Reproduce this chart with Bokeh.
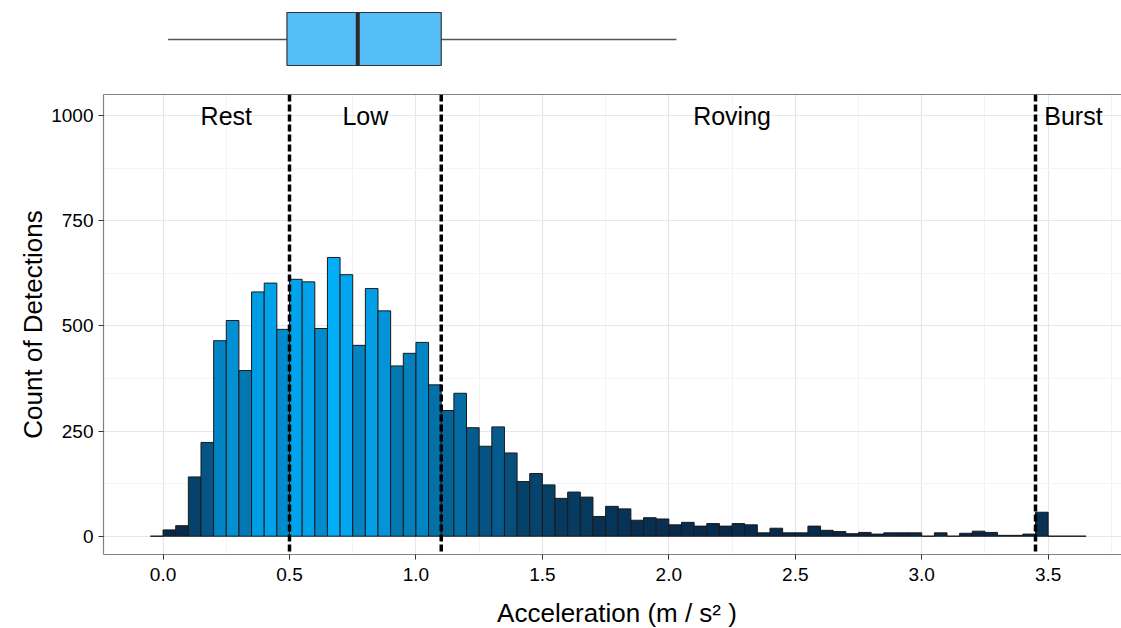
from bokeh.plotting import figure
from bokeh.layouts import column
from bokeh.models import (Range1d, Span, FixedTicker, ColumnDataSource,
                          LinearColorMapper, LinearAxis)
from bokeh.core.properties import value
from bokeh.embed import file_html
from bokeh.resources import INLINE

# ---------------- data ----------------
bin_width = 0.05
bin_start = -0.05
counts = [0, 15, 25, 141, 223, 465, 513, 394, 581, 602, 492,
          611, 605, 494, 663, 622, 454, 589, 536, 405, 435,
          461, 360, 299, 340, 258, 214, 260, 198, 130, 149,
          122, 90, 105, 93, 47, 71, 65, 38, 44, 41,
          27, 33, 24, 30, 24, 30, 27, 8, 19, 8,
          8, 24, 14, 11, 6, 9, 5, 8, 8, 8,
          0, 8, 0, 7, 12, 9, 2, 2, 5, 57,
          0, 0, 0]

thresholds = [0.5, 1.1, 3.45]
zone_names = ["Rest", "Low", "Roving", "Burst"]
zone_x = [0.25, 0.80, 2.25, 3.60]
zone_y = [1000, 1000, 1000, 1000]

box_q1, box_median, box_q3 = 0.49, 0.77, 1.10
whisker_lo, whisker_hi = 0.02, 2.03

x_ticks = [0.0, 0.5, 1.0, 1.5, 2.0, 2.5, 3.0, 3.5]
x_tick_labels = ["0.0", "0.5", "1.0", "1.5", "2.0", "2.5", "3.0", "3.5"]
x_minor = [0.25, 0.75, 1.25, 1.75, 2.25, 2.75, 3.25, 3.75]
y_ticks = [0, 250, 500, 750, 1000]
y_tick_labels = ["0", "250", "500", "750", "1000"]
y_minor = [125, 375, 625, 875]

x_title = "Acceleration (m / s² )"
y_title = "Count of Detections"

FONT = "Liberation Sans"

left_edges = [bin_start + i * bin_width for i in range(len(counts))]
right_edges = [e + bin_width for e in left_edges]

# palette (low -> high)
def lerp_hex(c1, c2, n):
    a = [int(c1[i:i + 2], 16) for i in (1, 3, 5)]
    b = [int(c2[i:i + 2], 16) for i in (1, 3, 5)]
    out = []
    for k in range(n):
        t = k / (n - 1)
        out.append("#%02x%02x%02x" % tuple(round(a[j] + (b[j] - a[j]) * t) for j in range(3)))
    return out

palette = lerp_hex("#082646", "#00AEFA", 256)
mapper = LinearColorMapper(palette=palette, low=0, high=max(counts))

x_range = Range1d(-0.2355, 3.79)

# ---------------- main histogram ----------------
p = figure(width=1121, height=500, x_range=x_range, y_range=Range1d(-43.5, 1050.6),
           output_backend="svg", toolbar_location=None,
           min_border_left=103, min_border_right=0, min_border_top=6,
           min_border_bottom=34)
p.outline_line_color = None
p.background_fill_color = "white"
p.border_fill_color = "white"

src = ColumnDataSource(dict(left=left_edges, right=right_edges, top=counts,
                            bottom=[0] * len(counts)))
p.quad(left="left", right="right", top="top", bottom="bottom", source=src,
       fill_color={"field": "top", "transform": mapper},
       line_color="#1a1a1a", line_width=1)

for t in thresholds:
    p.add_layout(Span(location=t, dimension="height", line_color="black",
                      line_width=3.5, line_dash="7 3"))

tsrc = ColumnDataSource(dict(x=zone_x, y=zone_y, text=zone_names))
p.text(x="x", y="y", text="text", source=tsrc, text_align="center",
       text_baseline="middle", text_font=value(FONT), text_font_size="25px",
       text_color="black")

# axes
xt = FixedTicker(ticks=x_ticks, minor_ticks=x_minor)
yt = FixedTicker(ticks=y_ticks, minor_ticks=y_minor)
p.xaxis.ticker = xt
p.yaxis.ticker = yt
p.xaxis.major_label_overrides = {t: l for t, l in zip(x_ticks, x_tick_labels)}
p.yaxis.major_label_overrides = {t: l for t, l in zip(y_ticks, y_tick_labels)}

for ax in (p.xaxis[0], p.yaxis[0]):
    ax.axis_line_color = "#7d828c"
    ax.axis_line_width = 1.2
    ax.major_tick_line_color = "#333333"
    ax.major_tick_out = 5
    ax.major_tick_in = 0
    ax.minor_tick_out = 0
    ax.minor_tick_in = 0
    ax.major_label_text_font = FONT
    ax.major_label_text_font_size = "19px"
    ax.major_label_text_color = "black"
    ax.axis_label_text_font = FONT
    ax.axis_label_text_font_size = "26px"
    ax.axis_label_text_font_style = "normal"
    ax.axis_label_text_color = "black"

p.yaxis.axis_label = y_title
p.xaxis.major_label_standoff = 8
p.yaxis.major_label_standoff = 5
p.yaxis.axis_label_standoff = 0

# top border line
top_ax = LinearAxis(ticker=FixedTicker(ticks=[]), major_label_text_font_size="0px",
                    major_tick_out=0, minor_tick_out=0, major_label_standoff=0,
                    axis_line_color="#7d828c", axis_line_width=1.2)
p.add_layout(top_ax, "above")

p.xgrid.grid_line_color = "#e4e7f0"
p.ygrid.grid_line_color = "#e4e7f0"
p.xgrid.grid_line_width = 1.2
p.ygrid.grid_line_width = 1.2
p.xgrid.minor_grid_line_color = "#f3f4f8"
p.ygrid.minor_grid_line_color = "#f3f4f8"

# ---------------- box plot panel ----------------
b = figure(width=1121, height=88, x_range=x_range, y_range=Range1d(0, 88),
           output_backend="svg", toolbar_location=None,
           x_axis_type=None, y_axis_type=None,
           min_border_left=103, min_border_right=0, min_border_top=0,
           min_border_bottom=0)
b.outline_line_color = None
b.xgrid.visible = False
b.ygrid.visible = False

b.segment(x0=[whisker_lo, box_q3], y0=[49, 49], x1=[box_q1, whisker_hi], y1=[49, 49],
          line_color="#555555", line_width=1.5)
b.quad(left=[box_q1], right=[box_q3], bottom=[23], top=[76],
       fill_color="#55BEF6", line_color="#333333", line_width=1.2)
b.segment(x0=[box_median], y0=[23], x1=[box_median], y1=[76],
          line_color="#2b2b2b", line_width=4)

# ---------------- x-axis title strip ----------------
tt = figure(width=1121, height=40, x_range=x_range, y_range=Range1d(0, 40),
            output_backend="svg", toolbar_location=None,
            x_axis_type=None, y_axis_type=None,
            min_border_left=103, min_border_right=0, min_border_top=0,
            min_border_bottom=0)
tt.outline_line_color = None
tt.xgrid.visible = False
tt.ygrid.visible = False
tt.text(x=[1.795], y=[16], text=[x_title], text_align="center",
        text_baseline="middle", text_font=value(FONT), text_font_size="26px",
        text_color="black")

layout = column(b, p, tt, spacing=0)

open("out.html", "w").write(file_html(layout, INLINE))
